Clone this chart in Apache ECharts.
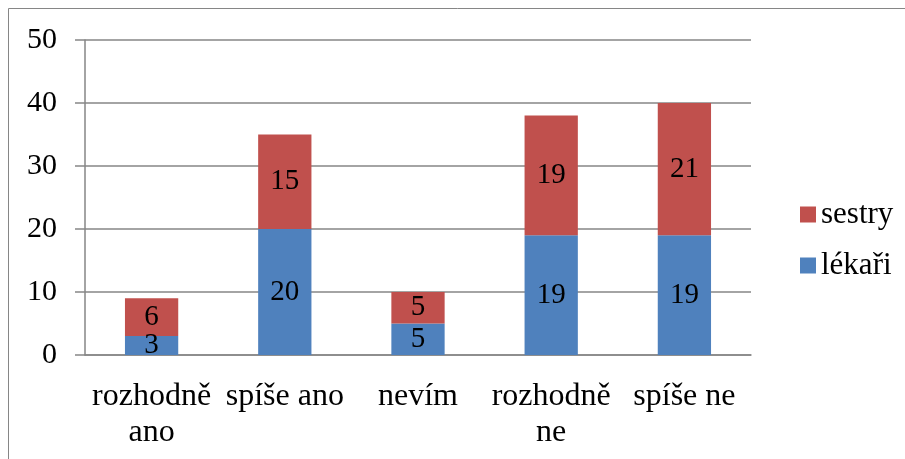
<!DOCTYPE html>
<html>
<head>
<meta charset="utf-8">
<script src="https://cdn.jsdelivr.net/npm/echarts@6/dist/echarts.min.js"></script>
<style>
  html, body { margin: 0; padding: 0; background: #fff; }
  #chart { width: 905px; height: 459px; }
</style>
</head>
<body>
<div id="chart"></div>
<script>
var categories = ['rozhodně\nano', 'spíše ano', 'nevím', 'rozhodně\nne', 'spíše ne'];
var lekari = [3, 20, 5, 19, 19];
var sestry = [6, 15, 5, 19, 21];
var yTicks = [0, 10, 20, 30, 40, 50];

var chart = echarts.init(document.getElementById('chart'));
var font = 'Liberation Serif';

var option = {
  animation: false,
  textStyle: { fontFamily: font },
  graphic: [{
    type: 'rect',
    shape: { x: 8.5, y: 8.5, width: 1000, height: 1000 },
    style: { fill: 'none', stroke: '#868686', lineWidth: 1 }
  }],
  grid: { left: 85, top: 40, width: 666, height: 315 },
  legend: {
    orient: 'vertical',
    left: 795,
    top: 194,
    data: ['sestry', 'lékaři'],
    icon: 'rect',
    itemWidth: 16,
    itemHeight: 16,
    itemGap: 20,
    textStyle: { fontFamily: font, fontSize: 31, color: '#000' }
  },
  xAxis: {
    type: 'category',
    data: categories,
    axisLine: { lineStyle: { color: '#868686', width: 1.5 } },
    axisTick: { length: 10, lineStyle: { color: '#868686', width: 1.5 } },
    axisLabel: {
      color: '#000', fontSize: 32, margin: 24, lineHeight: 36, fontFamily: font,
      interval: 0, hideOverlap: false
    }
  },
  yAxis: {
    type: 'value',
    min: yTicks[0],
    max: yTicks[yTicks.length - 1],
    interval: 10,
    axisLine: { show: true, lineStyle: { color: '#868686', width: 1.5 } },
    axisTick: { show: true, length: 10, lineStyle: { color: '#868686', width: 1.5 } },
    axisLabel: { color: '#000', fontSize: 30, margin: 28, fontFamily: font },
    splitLine: { lineStyle: { color: '#868686', width: 1.5 } }
  },
  series: [{
    name: 'lékaři',
    type: 'bar',
    stack: 'a',
    barWidth: '40%',
    itemStyle: { color: '#4F81BD' },
    label: { show: true, position: 'inside', color: '#000', fontSize: 29, fontFamily: font },
    data: lekari
  }, {
    name: 'sestry',
    type: 'bar',
    stack: 'a',
    barWidth: '40%',
    itemStyle: { color: '#C0504D' },
    label: { show: true, position: 'inside', color: '#000', fontSize: 29, fontFamily: font },
    data: sestry
  }]
};
chart.setOption(option);
</script>
</body>
</html>
